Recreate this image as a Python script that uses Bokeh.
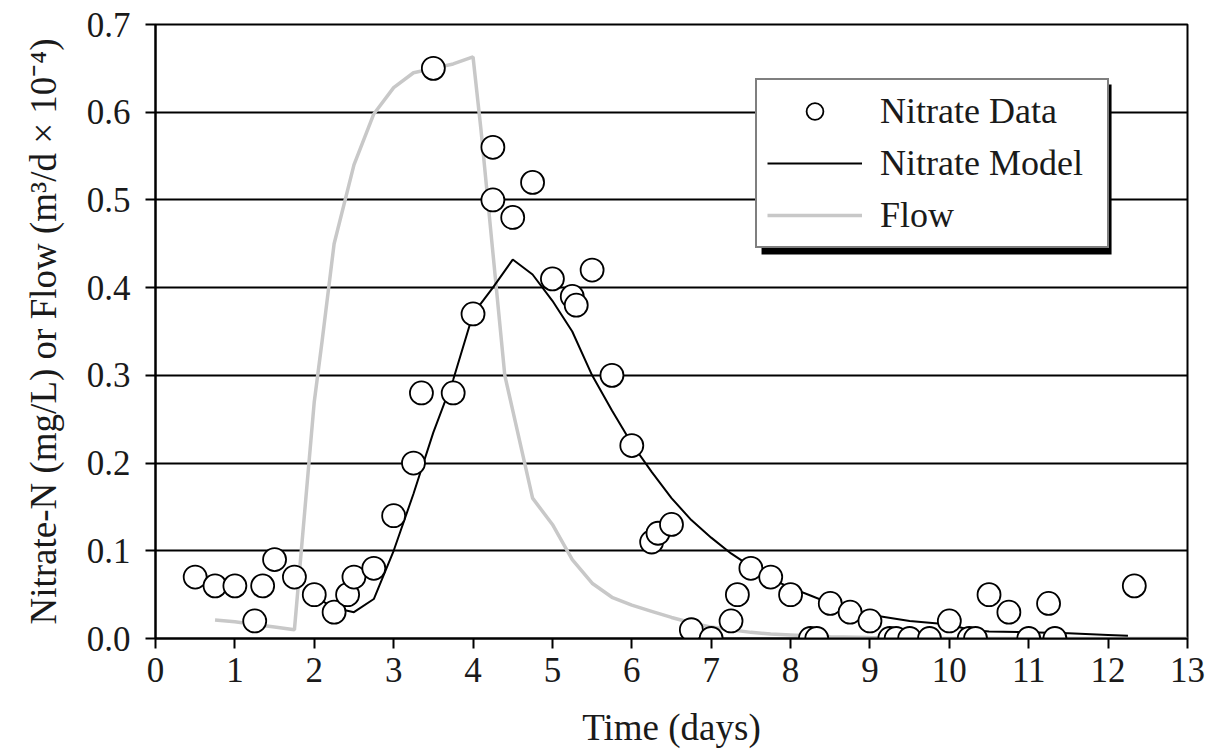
from bokeh.plotting import figure
from bokeh.models import (Legend, LegendItem, NumeralTickFormatter, FixedTicker,
                          BoxAnnotation, Range1d)
from bokeh.embed import file_html
from bokeh.resources import INLINE

# ---- data ----
nitrate_t = [0.5, 0.75, 1.0, 1.25, 1.35, 1.5, 1.75, 2.0, 2.25, 2.42, 2.5, 2.75,
             3.0, 3.25, 3.35, 3.5, 3.75, 4.0, 4.25, 4.25, 4.5, 4.75, 5.0, 5.25,
             5.3, 5.5, 5.75, 6.0, 6.25, 6.33, 6.5, 6.75, 7.0, 7.25, 7.33, 7.5,
             7.75, 8.0, 8.25, 8.33, 8.5, 8.75, 9.0, 9.25, 9.33, 9.5, 9.75, 10.0,
             10.25, 10.33, 10.5, 10.75, 11.0, 11.25, 11.33, 12.33]
nitrate_v = [0.07, 0.06, 0.06, 0.02, 0.06, 0.09, 0.07, 0.05, 0.03, 0.05, 0.07, 0.08,
             0.14, 0.20, 0.28, 0.65, 0.28, 0.37, 0.56, 0.50, 0.48, 0.52, 0.41, 0.39,
             0.38, 0.42, 0.30, 0.22, 0.11, 0.12, 0.13, 0.01, 0.0, 0.02, 0.05, 0.08,
             0.07, 0.05, 0.0, 0.0, 0.04, 0.03, 0.02, 0.0, 0.0, 0.0, 0.0, 0.02,
             0.0, 0.0, 0.05, 0.03, 0.0, 0.04, 0.0, 0.06]

model_t = [2.0, 2.25, 2.5, 2.75, 3.0, 3.25, 3.5, 3.75, 4.0, 4.25, 4.5, 4.75, 5.0,
           5.25, 5.5, 5.75, 6.0, 6.25, 6.5, 6.75, 7.0, 7.25, 7.5, 7.75, 8.0, 8.25,
           8.5, 8.75, 9.0, 9.5, 10.0, 10.25, 10.5, 11.0, 11.5, 12.0, 12.25]
model_v = [0.048, 0.035, 0.03, 0.045, 0.10, 0.165, 0.235, 0.295, 0.37, 0.40, 0.432,
           0.415, 0.385, 0.35, 0.30, 0.26, 0.222, 0.19, 0.16, 0.135, 0.115, 0.097,
           0.082, 0.068, 0.058, 0.049, 0.04, 0.033, 0.027, 0.02, 0.016, 0.01, 0.008,
           0.007, 0.006, 0.004, 0.003]

flow_t = [0.75, 1.0, 1.25, 1.5, 1.75, 2.0, 2.1, 2.25, 2.5, 2.75, 3.0, 3.25, 3.5,
          3.75, 4.0, 4.1, 4.25, 4.4, 4.5, 4.75, 5.0, 5.25, 5.5, 5.75, 6.0, 6.25,
          6.5, 6.75, 7.0, 7.25, 7.5, 7.75, 8.0, 8.5, 9.0, 10.0, 11.0, 12.0, 13.0]
flow_v = [0.021, 0.019, 0.016, 0.013, 0.01, 0.27, 0.34, 0.45, 0.54, 0.598, 0.628,
          0.645, 0.65, 0.655, 0.663, 0.58, 0.44, 0.30, 0.26, 0.16, 0.13, 0.09,
          0.063, 0.047, 0.038, 0.031, 0.024, 0.018, 0.013, 0.01, 0.007, 0.005,
          0.004, 0.002, 0.001, 0.0, 0.0, 0.0, 0.0]

x_ticks = list(range(0, 14))
y_ticks = [0.0, 0.1, 0.2, 0.3, 0.4, 0.5, 0.6, 0.7]

FONT = "Liberation Serif"
TXT = "#1a1a1a"

p = figure(width=1212, height=754, output_backend="svg", toolbar_location=None,
           x_range=Range1d(0, 13), y_range=Range1d(0, 0.7))
p.min_border_left = 155
p.min_border_right = 25
p.min_border_top = 24
p.min_border_bottom = 116
p.background_fill_color = "white"
p.border_fill_color = "white"
p.outline_line_color = "black"
p.outline_line_width = 2

# grids
p.xgrid.grid_line_color = None
p.ygrid.grid_line_color = "black"
p.ygrid.grid_line_width = 2
p.ygrid.ticker = FixedTicker(ticks=y_ticks)

# axes
for ax in (p.xaxis[0], p.yaxis[0]):
    ax.axis_line_color = "black"
    ax.axis_line_width = 2
    ax.major_tick_line_color = "black"
    ax.major_tick_line_width = 2
    ax.major_tick_in = 0
    ax.major_tick_out = 10
    ax.minor_tick_line_color = None
    ax.major_label_text_font = FONT
    ax.major_label_text_font_size = "35px"
    ax.major_label_text_color = TXT
    ax.axis_label_text_font = FONT
    ax.axis_label_text_font_size = "37px"
    ax.axis_label_text_font_style = "normal"
    ax.axis_label_text_color = TXT

p.xaxis.ticker = FixedTicker(ticks=x_ticks)
p.yaxis.ticker = FixedTicker(ticks=y_ticks)
p.yaxis.formatter = NumeralTickFormatter(format="0.0")
p.xaxis.axis_label = "Time (days)"
p.yaxis.axis_label = "Nitrate-N (mg/L) or Flow (m³/d × 10⁻⁴)"
p.xaxis.major_label_standoff = 9
p.yaxis.major_label_standoff = 15
p.xaxis.axis_label_standoff = 22
p.yaxis.axis_label_standoff = 20

# series
r_flow = p.line(flow_t, flow_v, line_color="#c8c8c8", line_width=3.5)
r_model = p.line(model_t, model_v, line_color="black", line_width=2)
r_data = p.scatter(nitrate_t, nitrate_v, marker="circle", size=23,
                   fill_color="white", line_color="black", line_width=1.8)

# legend shadow
shadow = BoxAnnotation(left=(761 - 155) / 79.38, right=(1111 - 155) / 79.38,
                       top=(638 - 84) / 877.1, bottom=(638 - 254) / 877.1,
                       fill_color="black", fill_alpha=1.0, line_color=None)
p.add_layout(shadow)

legend = Legend(items=[LegendItem(label="Nitrate Data", renderers=[r_data]),
                       LegendItem(label="Nitrate Model", renderers=[r_model]),
                       LegendItem(label="Flow", renderers=[r_flow])],
                location=(600, 390))
legend.label_text_font = FONT
legend.label_text_font_size = "36px"
legend.label_text_color = TXT
legend.glyph_width = 95
legend.glyph_height = 42
legend.label_height = 42
legend.label_width = 217
legend.label_standoff = 18
legend.spacing = 10
legend.padding = 10
legend.margin = 0
legend.border_line_color = "black"
legend.border_line_width = 2
legend.background_fill_color = "white"
legend.background_fill_alpha = 1.0
p.add_layout(legend)

open("out.html", "w").write(file_html(p, INLINE))
